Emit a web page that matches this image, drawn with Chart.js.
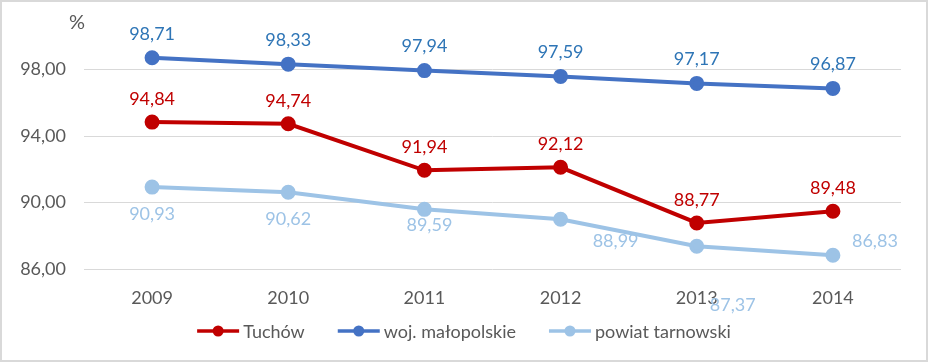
<!DOCTYPE html>
<html>
<head>
<meta charset="utf-8">
<script src="https://cdn.jsdelivr.net/npm/chart.js@4/dist/chart.umd.min.js"></script>
<style>
  html, body { margin: 0; padding: 0; background: #fff; }
  #box { position: absolute; left: 0; top: 0; width: 928px; height: 362px; box-sizing: border-box; border: 2px solid #d9d9d9; background: #fff; }
  #chart { display: block; }
</style>
</head>
<body>
<div id="box"><canvas id="chart" width="924" height="358"></canvas></div>
<script>
const years = ['2009', '2010', '2011', '2012', '2013', '2014'];
const tuchow = [94.84, 94.74, 91.94, 92.12, 88.77, 89.48];
const malopolskie = [98.71, 98.33, 97.94, 97.59, 97.17, 96.87];
const tarnowski = [90.93, 90.62, 89.59, 88.99, 87.37, 86.83];
const yTicks = [86, 90, 94, 98];

const FONT = 'Lato, "Open Sans", sans-serif';
const GRAY = '#595959';
const fmtPl = v => v.toFixed(2).replace('.', ',');

// label placement (dx, dy from point), like the hand-moved Excel labels
const labelDy = [-23, -24, 27];
const labelShift = { 2: { 2: [5, 16], 3: [55, 22], 4: [36, 59], 5: [42, -14] } };
const labelColors = ['#c00000', '#2e75b6', '#9dc3e6'];

const valueLabels = {
  id: 'valueLabels',
  afterDatasetsDraw(chart) {
    const ctx = chart.ctx;
    ctx.save();
    ctx.font = '18px ' + FONT;
    ctx.textAlign = 'center';
    ctx.textBaseline = 'middle';
    chart.data.datasets.forEach((ds, di) => {
      chart.getDatasetMeta(di).data.forEach((pt, i) => {
        const s = (labelShift[di] && labelShift[di][i]) || [0, labelDy[di]];
        ctx.fillStyle = labelColors[di];
        ctx.fillText(fmtPl(ds.data[i]), pt.x + s[0], pt.y + s[1]);
      });
    });
    ctx.restore();
  }
};

const extras = {
  id: 'extras',
  afterDraw(chart) {
    const ctx = chart.ctx;
    ctx.save();
    ctx.fillStyle = GRAY;
    ctx.textBaseline = 'middle';
    ctx.textAlign = 'center';
    ctx.font = '20px ' + FONT;
    ctx.fillText('%', 75, 21);
    // legend: line with dot, then label
    ctx.font = '18px ' + FONT;
    const lineW = 42, gap = 4, itemGap = 33;
    const items = chart.data.datasets.map(ds => ({ ds, w: lineW + gap + ctx.measureText(ds.label).width }));
    const total = items.reduce((a, it) => a + it.w, 0) + itemGap * (items.length - 1);
    let x = (chart.width - total) / 2;
    const y = 329;
    ctx.textAlign = 'left';
    items.forEach(it => {
      ctx.strokeStyle = it.ds.borderColor;
      ctx.lineWidth = 3.5;
      ctx.beginPath();
      ctx.moveTo(x, y);
      ctx.lineTo(x + lineW, y);
      ctx.stroke();
      ctx.fillStyle = it.ds.borderColor;
      ctx.beginPath();
      ctx.arc(x + lineW / 2, y, 5.5, 0, Math.PI * 2);
      ctx.fill();
      ctx.fillStyle = GRAY;
      ctx.fillText(it.ds.label, x + lineW + gap, y + 1);
      x += it.w + itemGap;
    });
    ctx.restore();
  }
};

function series(label, data, color) {
  return {
    label, data,
    borderColor: color, backgroundColor: color,
    pointBackgroundColor: color, pointBorderColor: color,
    borderWidth: 4, pointRadius: 5.5, pointHoverRadius: 5.5,
    tension: 0, clip: false
  };
}

new Chart(document.getElementById('chart'), {
  type: 'line',
  data: {
    labels: years,
    datasets: [
      series('Tuchów', tuchow, '#c00000'),
      series('woj. małopolskie', malopolskie, '#4472c4'),
      series('powiat tarnowski', tarnowski, '#9dc3e6')
    ]
  },
  options: {
    responsive: false,
    animation: false,
    layout: { padding: { top: 51, left: 0, right: 25, bottom: 51 } },
    plugins: { legend: { display: false }, tooltip: { enabled: false } },
    scales: {
      x: {
        offset: true,
        grid: { display: false },
        border: { display: false },
        ticks: { color: GRAY, font: { family: FONT, size: 18 }, padding: 10 },
        afterFit(s) { s.height = 40; }
      },
      y: {
        min: 86, max: 99,
        grid: { color: '#d9d9d9', lineWidth: 1, drawTicks: false },
        border: { display: false },
        ticks: { color: GRAY, font: { family: FONT, size: 18 }, padding: 18, callback: v => fmtPl(v) },
        afterBuildTicks(s) { s.ticks = yTicks.map(v => ({ value: v })); },
        afterFit(s) { s.width = 82; }
      }
    }
  },
  plugins: [valueLabels, extras]
});
</script>
</body>
</html>
